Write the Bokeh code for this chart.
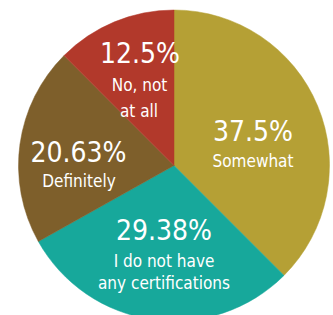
import math
from bokeh.plotting import figure
from bokeh.models import Range1d, ColumnDataSource
from bokeh.core.properties import value
from bokeh.embed import file_html
from bokeh.resources import INLINE

# Data (clockwise from 12 o'clock)
categories = ["Somewhat", "I do not have any certifications", "Definitely", "No, not at all"]
shares = [37.5, 29.38, 20.63, 12.5]
pct_labels = ["37.5%", "29.38%", "20.63%", "12.5%"]
label_lines = [["Somewhat"], ["I do not have", "any certifications"], ["Definitely"], ["No, not", "at all"]]
colors = ["#B5A035", "#17A89B", "#7E5F2B", "#B2392B"]

# Layout (page pixel coordinates; y = text baseline)
W, H = 333, 315
cx, cy, r = 173.5, 165, 155.5
pct_pos = [(252.5, 131), (163.5, 230), (78, 152), (139.5, 53)]
line_pos = [[(252.5, 160)], [(163.5, 260), (163.5, 282)], [(78.5, 180)], [(139, 84.5), (138.5, 110)]]
FONT = "DejaVu Sans Condensed, Roboto Condensed, Roboto, sans-serif"

p = figure(width=W, height=H, output_backend="svg", toolbar_location=None,
           x_range=Range1d(0, W), y_range=Range1d(-H, 0),
           min_border=0, outline_line_color=None)
p.axis.visible = False
p.grid.visible = False
p.background_fill_color = "white"
p.border_fill_color = "white"

total = sum(shares)
starts, ends = [], []
acc = 0.0
for s in shares:
    starts.append(math.pi / 2 - 2 * math.pi * acc / total)
    acc += s
    ends.append(math.pi / 2 - 2 * math.pi * acc / total)

src = ColumnDataSource(dict(x=[cx] * len(shares), y=[-cy] * len(shares),
                            start=starts, end=ends, color=colors, cat=categories))
p.wedge(x="x", y="y", radius=r, start_angle="start", end_angle="end",
        direction="clock", fill_color="color", line_color="color", line_width=0.5, source=src)

p.text(x=[q[0] for q in pct_pos], y=[-q[1] for q in pct_pos], text=pct_labels,
       text_font=value(FONT), text_font_size="28px", text_color="white",
       text_align="center", text_baseline="alphabetic")

lx, ly, lt = [], [], []
for lines, poss in zip(label_lines, line_pos):
    for t, (x, y) in zip(lines, poss):
        lx.append(x); ly.append(-y); lt.append(t)
p.text(x=lx, y=ly, text=lt, text_font=value(FONT), text_font_size="17px",
       text_color="white", text_align="center", text_baseline="alphabetic")

open("out.html", "w").write(file_html(p, INLINE))
